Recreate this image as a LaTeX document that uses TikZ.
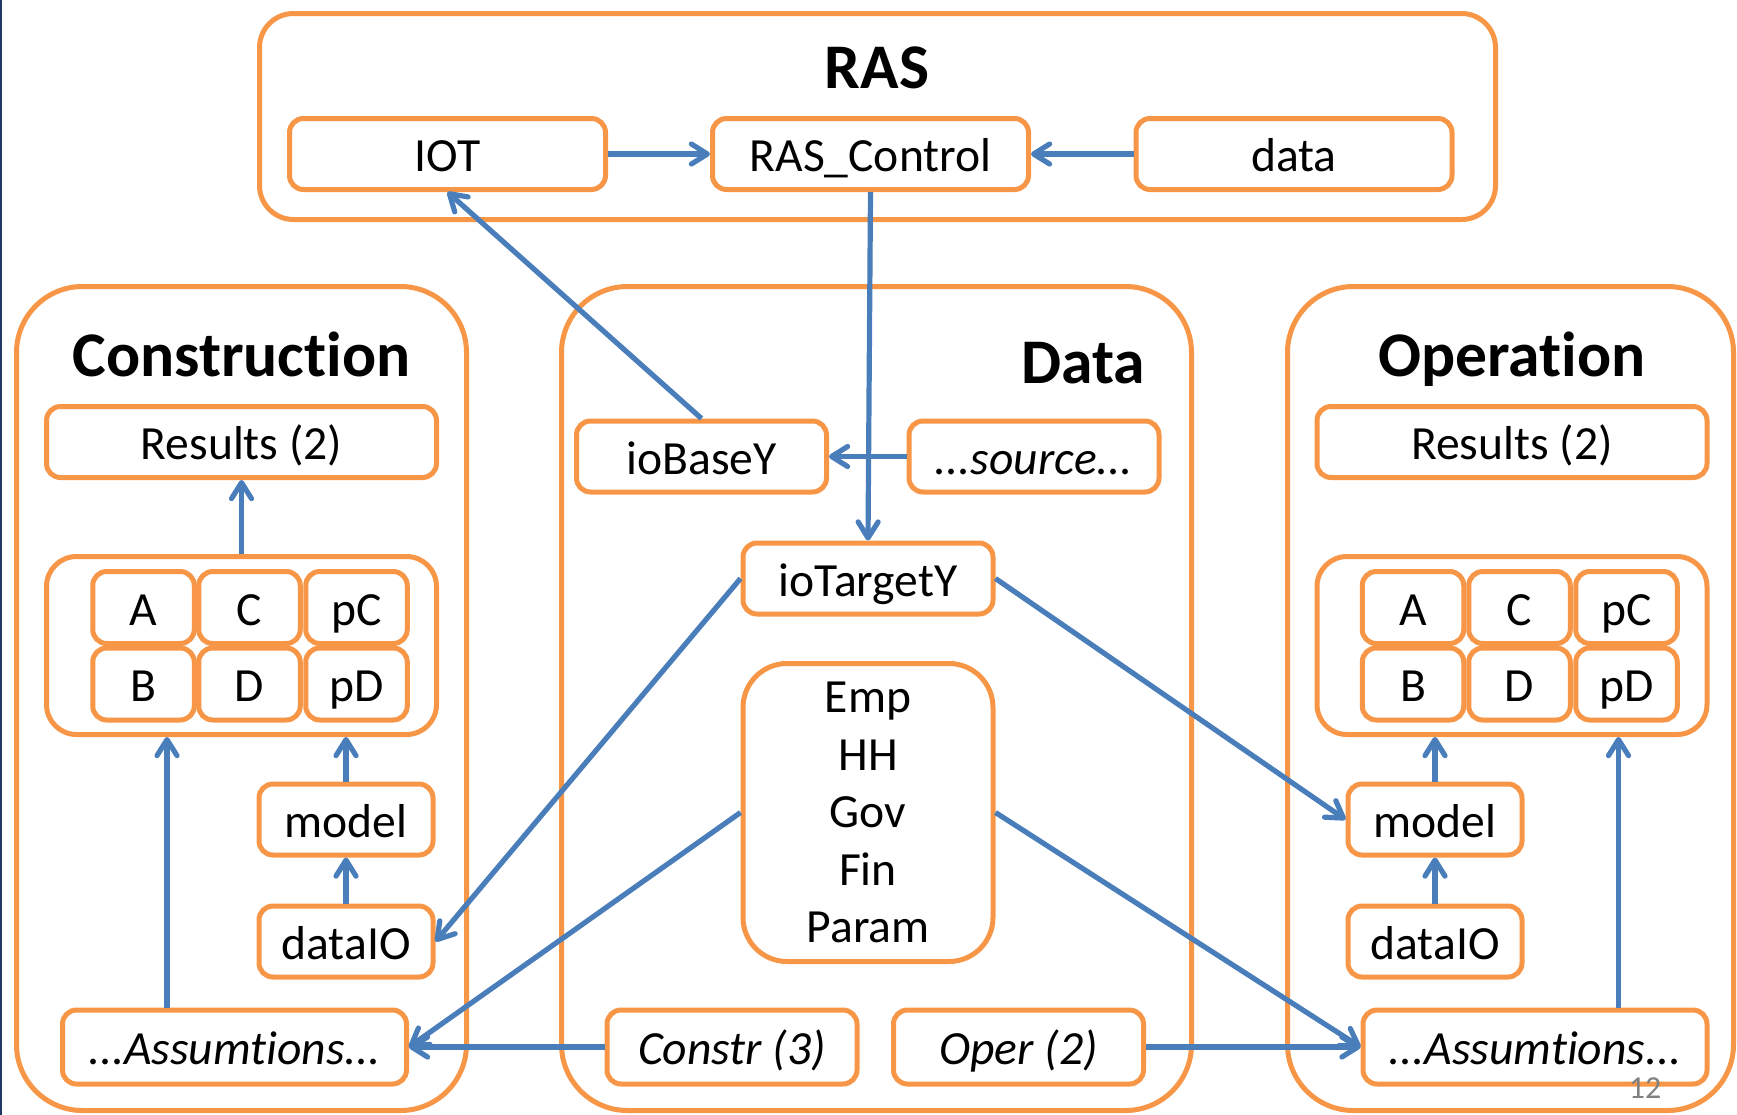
\documentclass[tikz,border=0pt]{standalone}
\usepackage{fontspec}
\setmainfont{Carlito}[Ligatures={NoCommon,NoContextual}]
\usetikzlibrary{arrows.meta}
\definecolor{orng}{HTML}{F79646}
\definecolor{blu}{HTML}{4A7EBB}
\definecolor{navy}{HTML}{1F3864}

\begin{document}
\begin{tikzpicture}[x=0.5pt,y=-0.5pt,>={Straight Barb[length=8pt,width=10pt,round]},
	frame/.style={draw=orng, line width=2.5pt, rounded corners=33pt, inner sep=0pt},
	box/.style={draw=orng, line width=2.5pt, fill=white, rounded corners=7pt, inner sep=0pt, text height=17.5pt, text depth=0pt, font=\fontsize{23.8}{28.8}\selectfont},
	cell/.style={box, minimum width=50.75pt, minimum height=36pt},
	title/.style={anchor=base, font=\fontsize{31.8}{36}\selectfont\bfseries},
	arr/.style={->, draw=blu, line width=2.6pt}]
		\useasboundingbox (0,0) rectangle (1737,1115);
		\draw[navy, line width=1.2pt] (1.2,0) -- (1.2,1115);
		\node[frame, rounded corners=17pt, minimum width=618pt, minimum height=103pt] (ras) at (877.5,116.5) {};
		\node[title] (rastitle) at (877,88.6) {RAS};
		\node[box, minimum width=158pt, minimum height=35.5pt] (iot) at (447.5,154) {IOT};
		\node[box, minimum width=158pt, minimum height=35.5pt] (rasctl) at (870.5,154) {RAS\_Control};
		\node[box, minimum width=158pt, minimum height=35.5pt] (rasdata) at (1294,154) {data};
		\node[frame, minimum width=225pt, minimum height=412pt] (constr) at (241.5,698.5) {};
		\node[title] (constrtitle) at (241.5,376.6) {Construction};
		\node[frame, minimum width=315pt, minimum height=412pt] (data) at (876.5,698.5) {};
		\node[title, anchor=base east] (datatitle) at (1152,383) {Data};
		\node[frame, minimum width=223pt, minimum height=412pt] (oper) at (1510.5,698.5) {};
		\node[title] (opertitle) at (1512,376.6) {Operation};
		\node[box, minimum width=195pt, minimum height=35.5pt] (resC) at (241.5,442) {Results (2)};
		\node[box, rounded corners=15pt, minimum width=195pt, minimum height=89pt] (abcdC) at (241.5,645.5) {};
		\node[cell] (aC) at (143.5,607.5) {A};
		\node[cell] (cC) at (249.5,607.5) {C};
		\node[cell] (pcC) at (356.5,607.5) {pC};
		\node[cell] (bC) at (143.5,684) {B};
		\node[cell] (dC) at (249.5,684) {D};
		\node[cell] (pdC) at (356.5,684) {pD};
		\node[box, minimum width=87pt, minimum height=35.5pt] (modelC) at (346,819.5) {model};
		\node[box, minimum width=87pt, minimum height=35.5pt] (dataioC) at (346,941.5) {dataIO};
		\node[box, minimum width=172pt, minimum height=37pt] (assC) at (234.5,1047) {\itshape ...Assumtions...};
		\node[box, minimum width=195pt, minimum height=35.5pt] (resO) at (1512,442) {Results (2)};
		\node[box, rounded corners=15pt, minimum width=195pt, minimum height=89pt] (abcdO) at (1512,645.5) {};
		\node[cell] (aO) at (1413,607.5) {A};
		\node[cell] (cO) at (1519.5,607.5) {C};
		\node[cell] (pcO) at (1626.5,607.5) {pC};
		\node[cell] (bO) at (1413,684) {B};
		\node[cell] (dO) at (1519.5,684) {D};
		\node[cell] (pdO) at (1626.5,684) {pD};
		\node[box, minimum width=87pt, minimum height=35.5pt] (modelO) at (1435,819.5) {model};
		\node[box, minimum width=87pt, minimum height=35.5pt] (dataioO) at (1435,941.5) {dataIO};
		\node[box, minimum width=172pt, minimum height=37pt] (assO) at (1535,1047) {\itshape ...Assumtions...};
		\node[box, minimum width=125pt, minimum height=35.5pt] (iobase) at (701.5,456.5) {ioBaseY};
		\node[box, minimum width=125pt, minimum height=35.5pt] (source) at (1034,456.5) {\itshape ...source...};
		\node[box, minimum width=125pt, minimum height=35.5pt] (iotarget) at (868,578.5) {ioTargetY};
		\node[box, rounded corners=22pt, minimum width=125pt, minimum height=149pt, text height=, text depth=, align=center] (sectors) at (868,812.5) {Emp\\HH\\Gov\\Fin\\Param};
		\node[box, minimum width=125pt, minimum height=37pt] (constrin) at (732,1047) {\itshape Constr (3)};
		\node[box, minimum width=125pt, minimum height=37pt] (operin) at (1018.5,1047) {\itshape Oper (2)};
		\node[anchor=base, text=gray, font=\fontsize{16}{18}\selectfont] (pagenum) at (1645,1098) {12};
		\coordinate (upC) at (167,0);
		\coordinate (upO) at (1618.5,0);
		\draw[arr] (iot) -- (rasctl);
		\draw[arr] (rasdata) -- (rasctl);
		\draw[arr] (iobase.north) -- (iot.south);
		\draw[arr] (rasctl.south) -- (iotarget.north);
		\draw[arr] (source) -- (iobase);
		\draw[arr] (abcdC) -- (resC);
		\draw[arr] (assC.north -| upC) -- (abcdC.south -| upC);
		\draw[arr] (modelC) -- (abcdC.south -| modelC);
		\draw[arr] (dataioC) -- (modelC);
		\draw[arr] (iotarget.west) -- (dataioC.east);
		\draw[arr] (sectors.west) -- (assC.east);
		\draw[arr] (constrin) -- (assC);
		\draw[arr] (iotarget.east) -- (modelO.west);
		\draw[arr] (sectors.east) -- (assO.west);
		\draw[arr] (operin) -- (assO);
		\draw[arr] (modelO) -- (abcdO.south -| modelO);
		\draw[arr] (dataioO) -- (modelO);
		\draw[arr] (assO.north -| upO) -- (abcdO.south -| upO);
	\end{tikzpicture}
\end{document}
